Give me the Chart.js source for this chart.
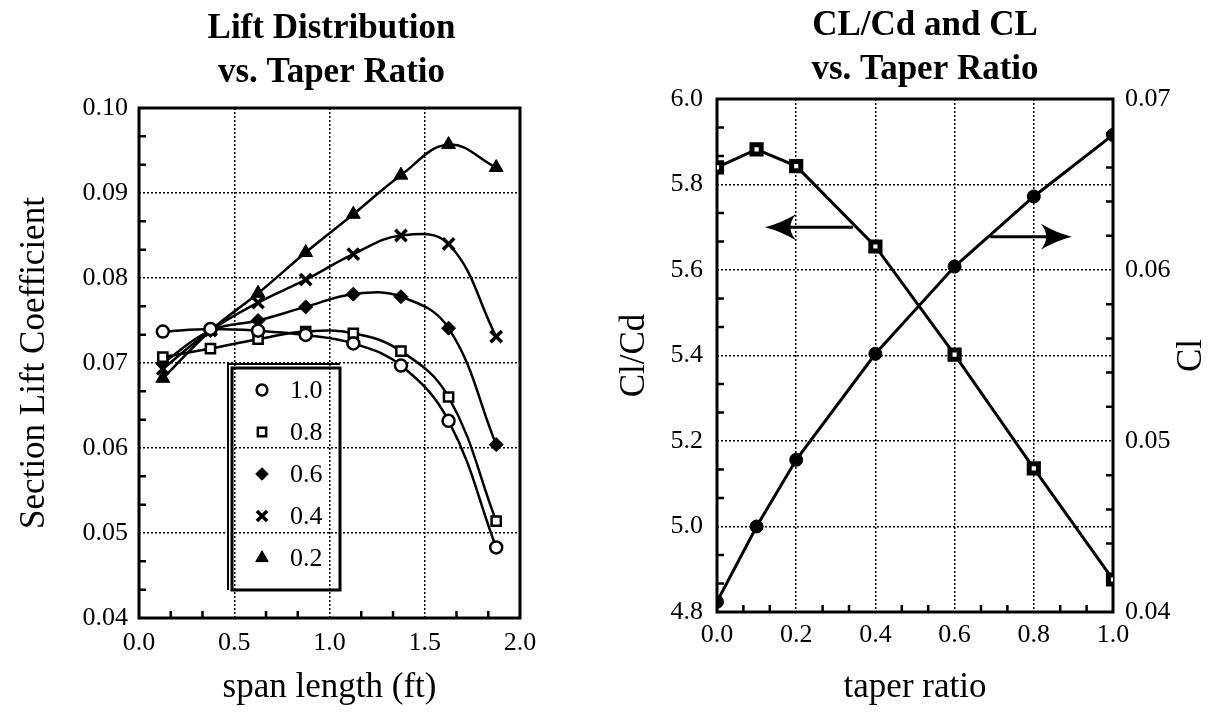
<!DOCTYPE html>
<html>
<head>
<meta charset="utf-8">
<script src="https://cdn.jsdelivr.net/npm/chart.js@4.4.1/dist/chart.umd.min.js"></script>
<style>
html,body{margin:0;padding:0;background:#fff;width:1221px;height:717px;overflow:hidden}
#w1{position:absolute;left:0;top:0;width:660px;height:717px}
#w2{position:absolute;left:600px;top:0;width:621px;height:717px}
</style>
</head>
<body>
<div id="w1"><canvas id="c1"></canvas></div>
<div id="w2"><canvas id="c2"></canvas></div>
<script>
// ---------- data: left chart (Lift distribution) ----------
const spanLength = [0.125, 0.375, 0.625, 0.875, 1.125, 1.375, 1.625, 1.875];
const taper10 = [0.0737, 0.0740, 0.0738, 0.0733, 0.0723, 0.0697, 0.0632, 0.0483];
const taper08 = [0.0707, 0.0717, 0.0728, 0.0737, 0.0735, 0.0714, 0.0660, 0.0514];
const taper06 = [0.0700, 0.0738, 0.0750, 0.0766, 0.0781, 0.0778, 0.0741, 0.0604];
const taper04 = [0.0693, 0.0738, 0.0771, 0.0798, 0.0828, 0.0850, 0.0840, 0.0731];
const taper02 = [0.0682, 0.0738, 0.0782, 0.0830, 0.0875, 0.0921, 0.0957, 0.0930];
const seriesLabels = ['1.0', '0.8', '0.6', '0.4', '0.2'];
const spanTicks = [0.0, 0.5, 1.0, 1.5, 2.0];
const liftTicks = [0.04, 0.05, 0.06, 0.07, 0.08, 0.09, 0.10];
const leftTitle = ['Lift Distribution', 'vs. Taper Ratio'];

// ---------- data: right chart (CL/Cd and CL) ----------
const taperRatio = [0.0, 0.1, 0.2, 0.4, 0.6, 0.8, 1.0];
const clcd = [5.840, 5.882, 5.843, 5.655, 5.402, 5.136, 4.876];
const clValues = [0.0406, 0.0450, 0.0489, 0.0551, 0.0602, 0.0643, 0.0679];
const taperTicks = [0.0, 0.2, 0.4, 0.6, 0.8, 1.0];
const clcdTicks = [4.8, 5.0, 5.2, 5.4, 5.6, 5.8, 6.0];
const clTicks = [0.04, 0.05, 0.06, 0.07];
const rightTitle = ['CL/Cd and CL', 'vs. Taper Ratio'];
// arrow annotations (data units of the CL/Cd axis)
const arrowFromX = [0.343, 0.690];
const arrowToX   = [0.121, 0.896];
const arrowY     = [5.700, 5.678];

const FONT = "'Liberation Serif', 'Times New Roman', serif";
const BLACK = '#000';

function pts(xs, ys) { return xs.map((x, i) => ({x: x, y: ys[i]})); }
function setTicks(arr) { return function (scale) { scale.ticks = arr.map(v => ({value: v})); }; }

function drawMarker(ctx, style, r, x, y) {
  if (Chart.helpers && Chart.helpers.drawPoint) {
    Chart.helpers.drawPoint(ctx, {pointStyle: style, radius: r, rotation: 0, borderWidth: ctx.lineWidth}, x, y);
    return;
  }
  ctx.beginPath(); ctx.arc(x, y, r, 0, Math.PI * 2); ctx.fill(); ctx.stroke();
}

// title centred over the plot area
const centerTitle = {
  id: 'centerTitle',
  afterDraw(chart, args, o) {
    if (!o || !o.lines) return;
    const ca = chart.chartArea, ctx = chart.ctx;
    ctx.save();
    ctx.font = 'bold ' + o.size + 'px ' + FONT;
    ctx.fillStyle = BLACK;
    ctx.textAlign = 'center';
    ctx.textBaseline = 'middle';
    o.lines.forEach((t, i) => ctx.fillText(t, (ca.left + ca.right) / 2 + (o.dx || 0), o.y0 + i * o.gap));
    ctx.restore();
  }
};

const framePlugin = {
  id: 'frame',
  beforeDatasetsDraw(chart, args, o) {
    const ca = chart.chartArea, ctx = chart.ctx;
    ctx.save();
    ctx.strokeStyle = BLACK;
    ctx.lineWidth = 3;
    ctx.strokeRect(ca.left, ca.top, ca.right - ca.left, ca.bottom - ca.top);
    (o.minor || []).forEach(m => {
      const s = chart.scales[m.id];
      const tv = s.ticks.map(t => t.value);
      ctx.lineWidth = 2.5;
      ctx.beginPath();
      for (let i = 0; i < tv.length - 1; i++) {
        for (let k = 1; k < m.n; k++) {
          const v = tv[i] + (tv[i + 1] - tv[i]) * k / m.n;
          const p = s.getPixelForValue(v);
          if (m.side === 'bottom') { ctx.moveTo(p, ca.bottom); ctx.lineTo(p, ca.bottom - 7); }
          if (m.side === 'left') { ctx.moveTo(ca.left, p); ctx.lineTo(ca.left + 7, p); }
          if (m.side === 'right') { ctx.moveTo(ca.right, p); ctx.lineTo(ca.right - 7, p); }
        }
      }
      ctx.stroke();
    });
    ctx.restore();
  }
};

const insetLegend = {
  id: 'insetLegend',
  afterDatasetsDraw(chart, args, o) {
    if (!o || !o.display) return;
    const ca = chart.chartArea, ctx = chart.ctx;
    const x0 = ca.left + o.left, y0 = ca.top + o.top;
    ctx.save();
    ctx.strokeStyle = BLACK;
    ctx.lineWidth = 3;
    ctx.strokeRect(x0, y0, o.width, o.height);
    ctx.lineWidth = 2;
    ctx.beginPath();
    ctx.moveTo(x0 - 4, y0 + o.height); ctx.lineTo(x0 - 4, y0 - 4); ctx.lineTo(x0 + o.width, y0 - 4);
    ctx.stroke();
    ctx.font = o.fontSize + 'px ' + FONT;
    ctx.textBaseline = 'middle';
    ctx.textAlign = 'left';
    chart.data.datasets.forEach((ds, i) => {
      const cy = y0 + o.firstRow + i * o.rowGap;
      ctx.fillStyle = ds.pointBackgroundColor;
      ctx.strokeStyle = BLACK;
      ctx.lineWidth = ds.pointBorderWidth;
      drawMarker(ctx, ds.pointStyle, ds.pointRadius * 0.9, x0 + o.markerX, cy);
      ctx.fillStyle = BLACK;
      ctx.fillText(ds.label, x0 + o.textX, cy + 1);
    });
    ctx.restore();
  }
};

const arrowPlugin = {
  id: 'arrows',
  afterDatasetsDraw(chart, args, o) {
    if (!o || !o.display) return;
    const xs = chart.scales.x, ys = chart.scales.y, ctx = chart.ctx;
    ctx.save();
    ctx.strokeStyle = BLACK; ctx.fillStyle = BLACK; ctx.lineWidth = 3;
    for (let i = 0; i < arrowFromX.length; i++) {
      const x1 = xs.getPixelForValue(arrowFromX[i]);
      const x2 = xs.getPixelForValue(arrowToX[i]);
      const y = ys.getPixelForValue(arrowY[i]);
      const dir = Math.sign(x2 - x1);
      const hl = 31, hw = 13;
      ctx.beginPath(); ctx.moveTo(x1, y); ctx.lineTo(x2 - dir * hl * 0.6, y); ctx.stroke();
      ctx.beginPath();
      ctx.moveTo(x2, y);
      ctx.quadraticCurveTo(x2 - dir * hl * 0.5, y - hw * 0.3, x2 - dir * hl, y - hw);
      ctx.quadraticCurveTo(x2 - dir * hl * 0.65, y, x2 - dir * hl, y + hw);
      ctx.quadraticCurveTo(x2 - dir * hl * 0.5, y + hw * 0.3, x2, y);
      ctx.fill();
    }
    ctx.restore();
  }
};

const rightAxisTitle = {
  id: 'rightAxisTitle',
  afterDraw(chart, args, o) {
    if (!o || !o.display) return;
    const s = chart.scales[o.scale], ctx = chart.ctx, ca = chart.chartArea;
    ctx.save();
    ctx.translate(s.right - o.offset, (ca.top + ca.bottom) / 2);
    ctx.rotate(-Math.PI / 2);
    ctx.font = o.size + 'px ' + FONT;
    ctx.fillStyle = BLACK;
    ctx.textAlign = 'center';
    ctx.textBaseline = 'middle';
    ctx.fillText(o.text, 0, 0);
    ctx.restore();
  }
};

const tickFont = {family: FONT, size: 26};
const axisTitleFont = {family: FONT, size: 35};
const gridOpts = {color: BLACK, lineWidth: 1.5, drawTicks: false};
const borderOpts = {display: false, dash: [2, 2]};

function lineDs(label, ys, style, radius, fill, bw) {
  return {
    label: label,
    data: pts(spanLength, ys),
    borderColor: BLACK,
    borderWidth: 2.5,
    tension: 0.4,
    pointStyle: style,
    pointRadius: radius,
    pointBackgroundColor: fill,
    pointBorderColor: BLACK,
    pointBorderWidth: bw,
    fill: false
  };
}

Chart.defaults.animation = false;

new Chart(document.getElementById('c1'), {
  type: 'line',
  data: {
    datasets: [
      lineDs(seriesLabels[0], taper10, 'circle', 6, '#fff', 2.5),
      lineDs(seriesLabels[1], taper08, 'rect', 6.5, '#fff', 2.5),
      lineDs(seriesLabels[2], taper06, 'rectRot', 7, BLACK, 1),
      lineDs(seriesLabels[3], taper04, 'crossRot', 8, BLACK, 3.5),
      lineDs(seriesLabels[4], taper02, 'triangle', 8, BLACK, 1)
    ]
  },
  options: {
    responsive: true, maintainAspectRatio: false, devicePixelRatio: 1, animation: false,
    layout: {padding: {left: 0, right: 140, top: 108, bottom: 0}},
    plugins: {
      legend: {display: false}, tooltip: {enabled: false}, title: {display: false},
      centerTitle: {lines: leftTitle, size: 35, y0: 29, gap: 44, dx: 2},
      frame: {minor: [{id: 'x', n: 3, side: 'bottom'}, {id: 'y', n: 3, side: 'left'}]},
      insetLegend: {display: true, left: 93, top: 260, width: 108, height: 222, firstRow: 22, rowGap: 42,
        markerX: 30, textX: 58, fontSize: 26}
    },
    scales: {
      x: {type: 'linear', min: 0, max: 2, afterBuildTicks: setTicks(spanTicks),
        ticks: {color: BLACK, font: tickFont, padding: 10, maxRotation: 0, callback: v => v.toFixed(1)},
        grid: gridOpts, border: borderOpts,
        title: {display: true, text: 'span length (ft)', color: BLACK, font: axisTitleFont, padding: 8},
        afterFit(s) { s.height = 99; }},
      y: {type: 'linear', min: 0.04, max: 0.10, afterBuildTicks: setTicks(liftTicks),
        ticks: {color: BLACK, font: tickFont, padding: 11, callback: v => v.toFixed(2)},
        grid: gridOpts, border: borderOpts,
        title: {display: true, text: 'Section Lift Coefficient', color: BLACK, font: axisTitleFont, padding: 14},
        afterFit(s) { s.width = 139; }}
    }
  },
  plugins: [framePlugin, insetLegend, centerTitle]
});

new Chart(document.getElementById('c2'), {
  type: 'line',
  data: {
    datasets: [
      {label: 'CL/Cd', data: pts(taperRatio, clcd), yAxisID: 'y', borderColor: BLACK, borderWidth: 3, tension: 0,
        pointStyle: 'rect', pointRadius: 6.5, pointBackgroundColor: '#fff', pointBorderColor: BLACK, pointBorderWidth: 5},
      {label: 'CL', data: pts(taperRatio, clValues), yAxisID: 'y2', borderColor: BLACK, borderWidth: 3, tension: 0,
        pointStyle: 'circle', pointRadius: 6.5, pointBackgroundColor: BLACK, pointBorderColor: BLACK, pointBorderWidth: 1}
    ]
  },
  options: {
    responsive: true, maintainAspectRatio: false, devicePixelRatio: 1, animation: false,
    layout: {padding: {left: 0, right: 0, top: 99, bottom: 0}},
    plugins: {
      legend: {display: false}, tooltip: {enabled: false}, title: {display: false},
      centerTitle: {lines: rightTitle, size: 35, y0: 26, gap: 44, dx: 10},
      frame: {minor: [{id: 'x', n: 3, side: 'bottom'}, {id: 'y', n: 3, side: 'left'}, {id: 'y2', n: 5, side: 'right'}]},
      arrows: {display: true},
      rightAxisTitle: {display: true, scale: 'y2', text: 'Cl', size: 35, offset: 29}
    },
    scales: {
      x: {type: 'linear', min: 0, max: 1, afterBuildTicks: setTicks(taperTicks),
        ticks: {color: BLACK, font: tickFont, padding: 8, maxRotation: 0, callback: v => v.toFixed(1)},
        grid: gridOpts, border: borderOpts,
        title: {display: true, text: 'taper ratio', color: BLACK, font: axisTitleFont, padding: 8},
        afterFit(s) { s.height = 105; }},
      y: {type: 'linear', position: 'left', min: 4.8, max: 6.0, afterBuildTicks: setTicks(clcdTicks),
        ticks: {color: BLACK, font: tickFont, padding: 14, callback: v => v.toFixed(1)},
        grid: gridOpts, border: borderOpts,
        title: {display: true, text: 'Cl/Cd', color: BLACK, font: axisTitleFont, padding: 14},
        afterFit(s) { s.width = 117; }},
      y2: {type: 'linear', position: 'right', min: 0.04, max: 0.07, afterBuildTicks: setTicks(clTicks),
        ticks: {color: BLACK, font: tickFont, padding: 12, callback: v => v.toFixed(2)},
        grid: {display: false, drawTicks: false}, border: {display: false},
        title: {display: false},
        afterFit(s) { s.width = 108; }}
    }
  },
  plugins: [framePlugin, arrowPlugin, rightAxisTitle, centerTitle]
});
</script>
</body>
</html>
